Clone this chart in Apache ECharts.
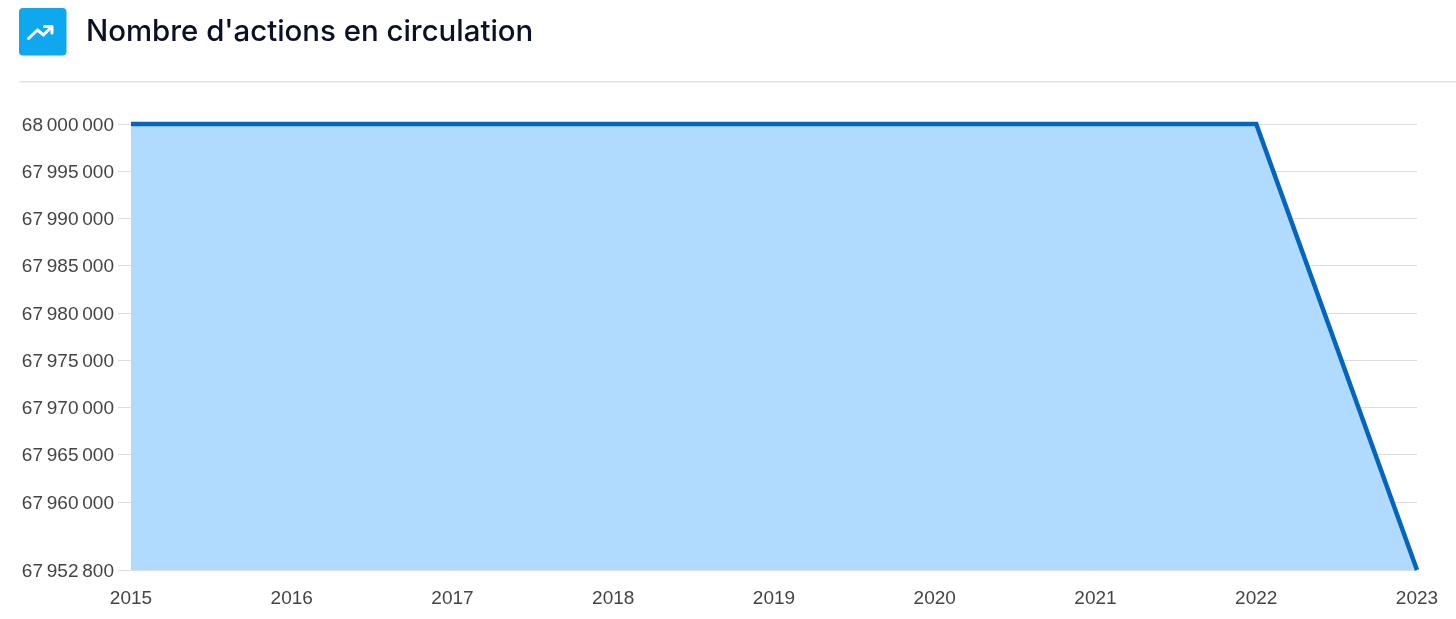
<!DOCTYPE html>
<html>
<head>
<meta charset="utf-8">
<title>Nombre d'actions en circulation</title>
<style>
  html, body { margin: 0; padding: 0; background: #fff; }
  #chart { width: 1456px; height: 619px; }
</style>
<script src="https://cdn.jsdelivr.net/npm/echarts@6/dist/echarts.min.js"></script>
</head>
<body>
<div id="chart"></div>
<script>
const years = ["2015", "2016", "2017", "2018", "2019", "2020", "2021", "2022", "2023"];
const shares = [68000000, 68000000, 68000000, 68000000, 68000000, 68000000, 68000000, 68000000, 67952800];
const yTicks = [67952800, 67960000, 67965000, 67970000, 67975000, 67980000, 67985000, 67990000, 67995000, 68000000];
const chartTitle = "Nombre d'actions en circulation";

// 68000000 -> "68 000 000" with narrow spaces
function formatShares(v) {
  return String(v).replace(/\B(?=(\d{3})+$)/g, "\u202f");
}

const myChart = echarts.init(document.getElementById("chart"), null, { renderer: "canvas" });

const option = {
  animation: false,
  backgroundColor: "#ffffff",
  title: {
    text: chartTitle,
    left: 86,
    top: 18,
    padding: 0,
    textStyle: {
      fontFamily: "Inter",
      fontWeight: 500,
      fontSize: 29.4,
      color: "#0b1024",
    },
  },
  graphic: [
    // header rule
    {
      type: "rect",
      shape: { x: 19, y: 81, width: 1437, height: 1.5 },
      style: { fill: "#e3e4ea" },
    },
    // icon
    {
      type: "rect",
      shape: { x: 19, y: 8, width: 47.5, height: 47.5, r: 4 },
      style: { fill: "#0fa8ee" },
    },
    {
      type: "polyline",
      shape: { points: [[28.5, 38.5], [37.5, 30], [43.5, 35], [51.5, 27]] },
      style: { stroke: "#ffffff", lineWidth: 3, fill: null, lineCap: "round", lineJoin: "round" },
    },
    {
      type: "polyline",
      shape: { points: [[44.5, 26.5], [52, 26.5], [52, 33]] },
      style: { stroke: "#ffffff", lineWidth: 3, fill: null, lineCap: "round", lineJoin: "round" },
    },
  ],
  grid: { left: 131, right: 39, top: 124, bottom: 49, containLabel: false },
  xAxis: {
    type: "category",
    data: years,
    boundaryGap: false,
    axisLine: { show: false },
    axisTick: { show: false },
    splitLine: { show: false },
    axisLabel: {
      fontFamily: "Liberation Sans",
      fontSize: 19,
      color: "#444444",
      margin: 19,
      interval: 0,
    },
  },
  yAxis: {
    type: "value",
    min: 67952800,
    max: 68000000,
    axisLine: { show: true, lineStyle: { color: "#e2dcdc", width: 1 } },
    axisTick: {
      show: true,
      length: 13,
      customValues: yTicks,
      lineStyle: { color: "#dddddd", width: 1 },
    },
    splitLine: { show: true, lineStyle: { color: "#dddddd", width: 1 } },
    axisLabel: {
      fontFamily: "Liberation Sans",
      fontSize: 19,
      color: "#444444",
      margin: 17,
      verticalAlign: "top",
      lineHeight: 3,
      customValues: yTicks,
      formatter: formatShares,
    },
  },
  series: [
    {
      type: "line",
      name: chartTitle,
      data: shares,
      showSymbol: false,
      clip: false,
      lineStyle: { color: "#0565bd", width: 4.5, join: "miter" },
      areaStyle: { color: "#b0dbfe", opacity: 1 },
    },
  ],
};

myChart.setOption(option);
</script>
</body>
</html>
